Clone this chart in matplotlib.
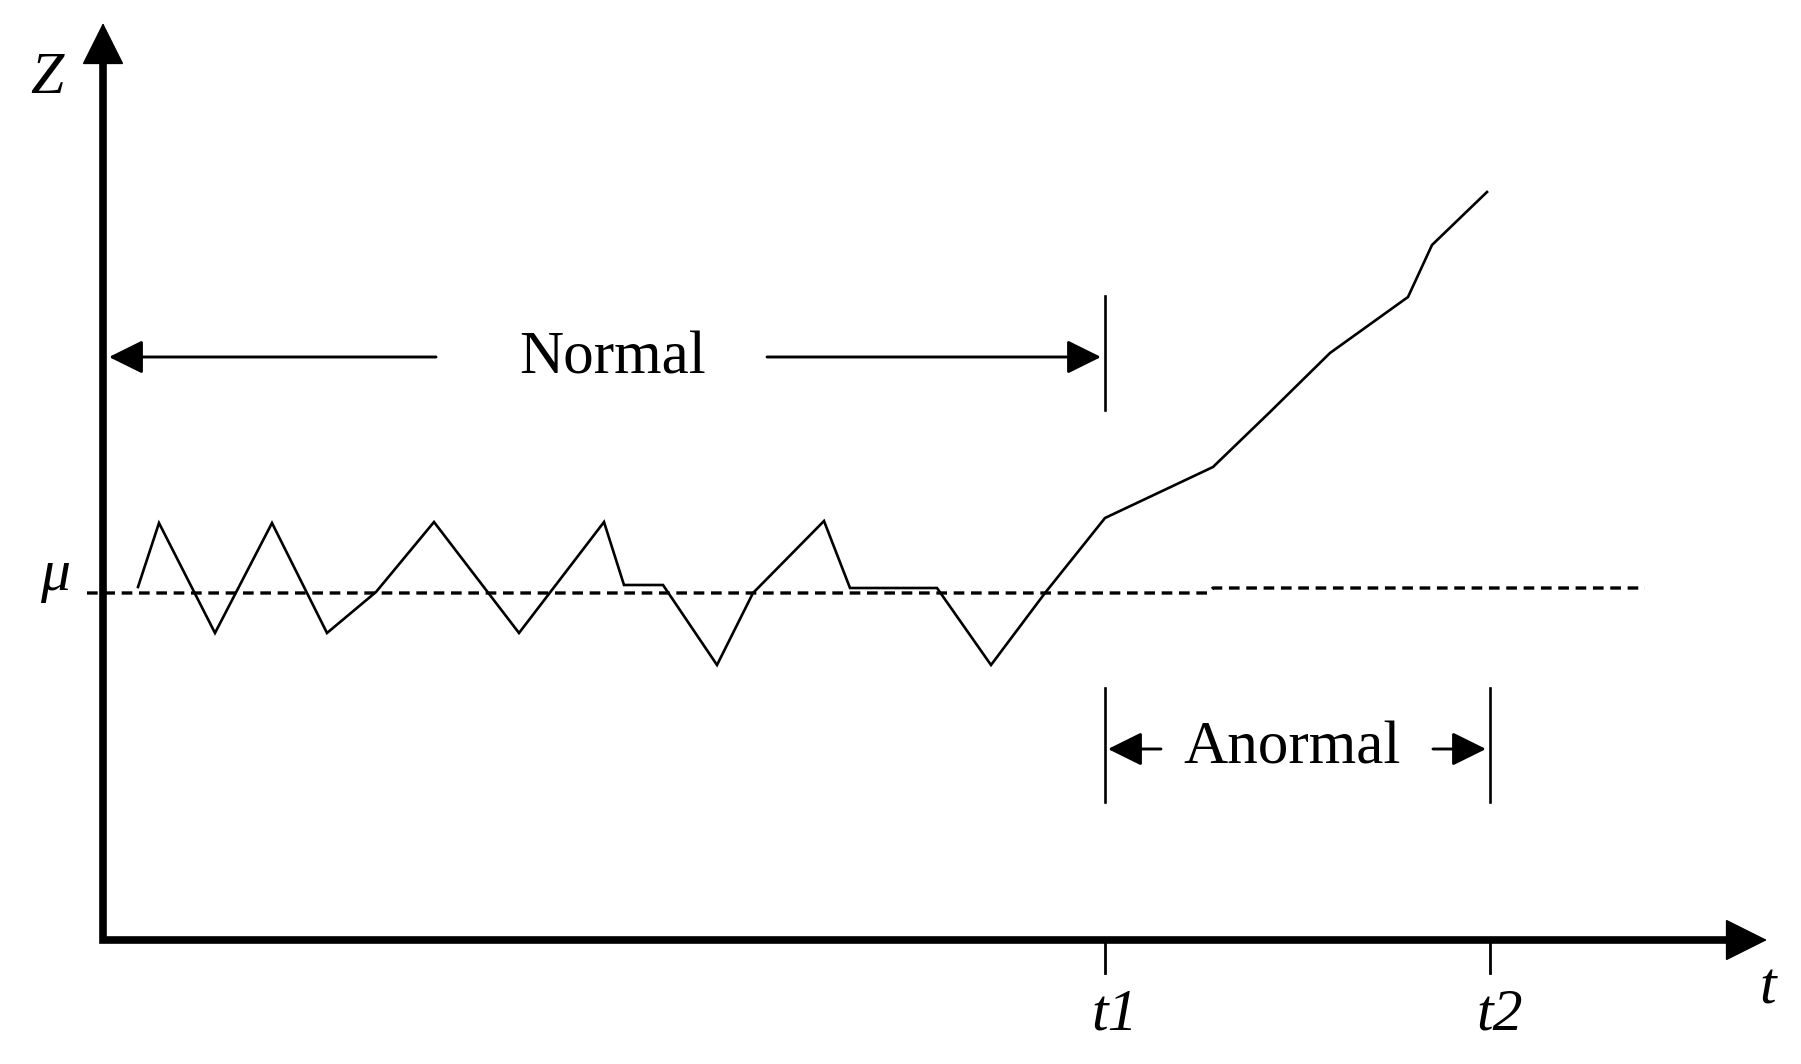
import matplotlib.pyplot as plt

plt.rcParams['font.family'] = ['Liberation Serif', 'DejaVu Serif']

# signal (t right, z up, origin at the axes corner)
t_signal = [35, 56, 112, 169, 224, 273, 331, 416, 501, 521, 560, 614, 650, 721,
            747, 834, 888, 942, 1002, 1110, 1167, 1227, 1305, 1329, 1384]
z_signal = [353, 417, 307, 417, 307, 348, 418, 307, 418, 355, 355, 275, 347, 419,
            352, 352, 275, 347, 422, 473, 528, 587, 643, 695, 748]

# mean level (dotted), with the small step after t1
t_mu = [-16, 1105, 1110, 1542]
z_mu = [347, 347, 352, 352]

t_ticks = [1002, 1387]
tick_labels = ['t1', 't2']

t_max, z_max = 1664, 917

fig = plt.figure(figsize=(18.01, 10.64), dpi=100)
ax = fig.add_axes([0, 0, 1, 1])
ax.set_xlim(-103, 1698)
ax.set_ylim(-124, 940)
ax.axis('off')

# axes with arrow heads
ax.plot([0, 0, t_max - 30], [z_max - 30, 0, 0], color='black', lw=5.5,
        solid_joinstyle='miter', solid_capstyle='projecting')
head = dict(arrowstyle='-|>,head_length=1.0,head_width=0.5', mutation_scale=28,
            color='black', lw=1, shrinkA=0, shrinkB=0, joinstyle='miter')
ax.annotate('', xy=(0, z_max), xytext=(0, z_max - 60), arrowprops=head)
ax.annotate('', xy=(t_max, 0), xytext=(t_max - 60, 0), arrowprops=head)

# signal and mean
ax.plot(t_signal, z_signal, color='black', lw=1.9, solid_joinstyle='miter')
ax.plot(t_mu, z_mu, color='black', lw=2.4, linestyle=(0, (3.2, 2.0)))

# ticks on time axis
for t, lab in zip(t_ticks, tick_labels):
    ax.plot([t, t], [0, -33], color='black', lw=2)
    ax.text(t + 10, -89, lab, fontsize=43, style='italic', ha='center', va='baseline')

# Normal / Anormal spans
small = dict(arrowstyle='-|>,head_length=1.05,head_width=0.52', mutation_scale=20,
             color='black', lw=2.1, shrinkA=0, shrinkB=0)
z_n = 583
ax.plot([t_ticks[0], t_ticks[0]], [530, 644], color='black', lw=1.9)
ax.annotate('', xy=(6, z_n), xytext=(333, z_n), arrowprops=small)
ax.annotate('', xy=(t_ticks[0] - 4, z_n), xytext=(664, z_n), arrowprops=small)
ax.text(510, 567, 'Normal', fontsize=44, ha='center', va='baseline')

z_a = 191
for t in t_ticks:
    ax.plot([t, t], [138, 252], color='black', lw=1.9)
ax.annotate('', xy=(t_ticks[0] + 3, z_a), xytext=(1058, z_a), arrowprops=small)
ax.annotate('', xy=(t_ticks[1] - 4, z_a), xytext=(1330, z_a), arrowprops=small)
ax.text(1189, 177, 'Anormal', fontsize=44, ha='center', va='baseline')

# axis labels
ax.text(-56, 847, 'Z', fontsize=43, style='italic', ha='center', va='baseline')
ax.text(-48, 350, 'μ', fontsize=43, style='italic', ha='center', va='baseline')
ax.text(1665, -63, 't', fontsize=43, style='italic', ha='center', va='baseline')

fig.savefig('out.png', dpi=100)
